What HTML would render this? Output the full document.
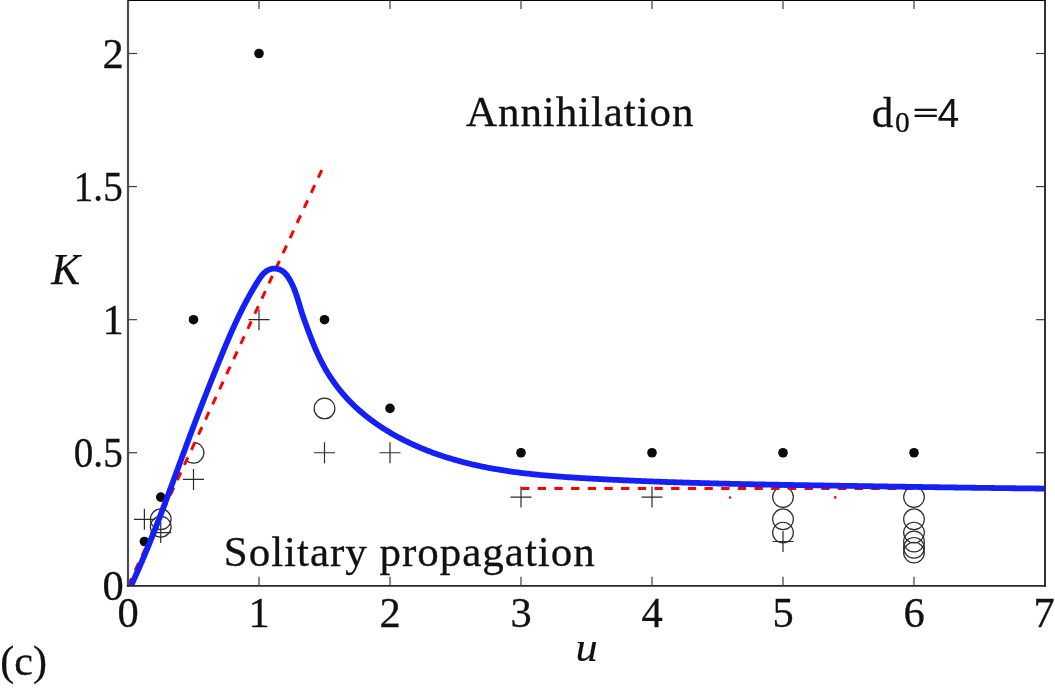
<!DOCTYPE html>
<html><head><meta charset="utf-8"><title>K vs u</title>
<style>html,body{margin:0;padding:0;background:#fff;overflow:hidden;}svg{display:block;}text{font-family:"Liberation Serif",serif;fill:#111111;}.sans{font-family:"Liberation Sans",sans-serif;}</style></head><body>
<svg width="1055" height="688" viewBox="0 0 1055 688">
<rect x="0" y="0" width="1055" height="688" fill="#ffffff"/>
<defs><clipPath id="plot"><rect x="128.00" y="0" width="917.00" height="585.35"/></clipPath>
<clipPath id="rightofred"><polygon points="128.00,585.85 324.50,164.23 400,164.23 400,585.85"/></clipPath></defs>
<g fill="none" stroke="#2b2b2b" stroke-width="1.2">
<circle cx="160.75" cy="519.31" r="10.35"/>
<circle cx="160.75" cy="526.70" r="10.35"/>
<circle cx="324.50" cy="408.40" r="10.35"/>
<circle cx="783.00" cy="497.12" r="10.35"/>
<circle cx="783.00" cy="519.31" r="10.35"/>
<circle cx="783.00" cy="532.62" r="10.35"/>
<circle cx="914.00" cy="497.12" r="10.35"/>
<circle cx="914.00" cy="519.31" r="10.35"/>
<circle cx="914.00" cy="532.62" r="10.35"/>
<circle cx="914.00" cy="541.49" r="10.35"/>
<circle cx="914.00" cy="547.83" r="10.35"/>
<circle cx="914.00" cy="552.58" r="10.35"/>
<circle cx="193.50" cy="452.76" r="10.35" clip-path="url(#rightofred)"/>
<path d="M133.88 519.31H154.88M144.38 508.81V529.81"/>
<path d="M150.25 532.62H171.25M160.75 522.12V543.12"/>
<path d="M183.00 479.38H204.00M193.50 468.88V489.88"/>
<path d="M248.50 319.68H269.50M259.00 309.18V330.18"/>
<path d="M314.00 452.76H335.00M324.50 442.26V463.26"/>
<path d="M379.50 452.76H400.50M390.00 442.26V463.26"/>
<path d="M510.50 497.12H531.50M521.00 486.62V507.62"/>
<path d="M641.50 497.12H662.50M652.00 486.62V507.62"/>
<path d="M772.50 541.49H793.50M783.00 530.99V551.99"/>
</g>
<g fill="#0a0a0a">
<circle cx="144.38" cy="541.49" r="4.8"/>
<circle cx="160.75" cy="497.12" r="4.8"/>
<circle cx="193.50" cy="319.68" r="4.8"/>
<circle cx="259.00" cy="53.50" r="4.8"/>
<circle cx="324.50" cy="319.68" r="4.8"/>
<circle cx="390.00" cy="408.40" r="4.8"/>
<circle cx="521.00" cy="452.76" r="4.8"/>
<circle cx="652.00" cy="452.76" r="4.8"/>
<circle cx="783.00" cy="452.76" r="4.8"/>
<circle cx="914.00" cy="452.76" r="4.8"/>
</g>
<g stroke="#ff0000" stroke-width="3.0" fill="none" stroke-dasharray="8.35 8.33">
<path d="M128.00 585.85L324.50 164.23"/>
<path d="M521.00 488.45L1045.00 488.45"/>
</g>
<circle cx="730" cy="497.5" r="1.3" fill="#ff0000"/><circle cx="835.2" cy="497.4" r="1.3" fill="#ff0000"/>
<path d="M129.02 589.97 L129.68 588.56 L130.35 587.15 L131.01 585.73 L131.67 584.32 L132.33 582.90 L132.98 581.49 L133.63 580.07 L134.28 578.65 L134.93 577.23 L135.57 575.81 L136.21 574.39 L136.84 572.96 L137.48 571.54 L138.11 570.12 L138.73 568.69 L139.36 567.26 L139.98 565.83 L140.60 564.40 L141.22 562.97 L141.83 561.54 L142.45 560.11 L143.06 558.68 L143.67 557.25 L144.27 555.81 L144.87 554.38 L145.47 552.94 L146.07 551.50 L146.67 550.07 L147.26 548.63 L147.86 547.19 L148.45 545.75 L149.03 544.31 L149.62 542.86 L150.21 541.42 L150.79 539.98 L151.37 538.54 L151.95 537.09 L152.52 535.65 L153.10 534.20 L153.67 532.75 L154.24 531.31 L154.81 529.86 L155.38 528.41 L155.95 526.96 L156.51 525.51 L157.08 524.06 L157.64 522.61 L158.20 521.16 L158.76 519.71 L159.32 518.26 L159.88 516.81 L160.43 515.35 L160.99 513.90 L161.54 512.45 L162.09 510.99 L162.64 509.54 L163.19 508.08 L163.74 506.63 L164.29 505.17 L164.84 503.71 L165.38 502.26 L165.93 500.80 L166.47 499.34 L167.02 497.88 L167.56 496.43 L168.10 494.97 L168.64 493.51 L169.19 492.05 L169.73 490.59 L170.27 489.13 L170.81 487.67 L171.34 486.21 L171.88 484.75 L172.42 483.29 L172.96 481.83 L173.50 480.37 L174.03 478.91 L174.57 477.45 L175.11 475.99 L175.65 474.53 L176.18 473.07 L176.72 471.61 L177.25 470.15 L177.79 468.69 L178.33 467.22 L178.86 465.76 L179.40 464.30 L179.94 462.84 L180.47 461.38 L181.01 459.92 L181.55 458.46 L182.09 457.00 L182.63 455.54 L183.16 454.08 L183.70 452.62 L184.24 451.16 L184.78 449.70 L185.32 448.24 L185.87 446.78 L186.41 445.32 L186.95 443.86 L187.49 442.40 L188.04 440.94 L188.58 439.48 L189.13 438.02 L189.67 436.56 L190.22 435.10 L190.77 433.65 L191.32 432.19 L191.87 430.73 L192.42 429.27 L192.97 427.82 L193.52 426.36 L194.07 424.90 L194.63 423.45 L195.18 421.99 L195.74 420.54 L196.29 419.08 L196.85 417.63 L197.41 416.17 L197.96 414.72 L198.52 413.27 L199.08 411.81 L199.64 410.36 L200.21 408.91 L200.77 407.45 L201.33 406.00 L201.90 404.55 L202.46 403.10 L203.03 401.65 L203.59 400.20 L204.16 398.74 L204.73 397.29 L205.29 395.84 L205.86 394.40 L206.43 392.95 L207.00 391.50 L207.58 390.05 L208.15 388.60 L208.72 387.15 L209.29 385.71 L209.87 384.26 L210.44 382.81 L211.02 381.37 L211.60 379.92 L212.18 378.47 L212.75 377.03 L213.33 375.58 L213.91 374.14 L214.49 372.70 L215.07 371.25 L215.66 369.81 L216.24 368.37 L216.82 366.93 L217.41 365.48 L217.99 364.04 L218.58 362.60 L219.17 361.16 L219.75 359.72 L220.34 358.28 L220.93 356.84 L221.52 355.40 L222.11 353.96 L222.70 352.53 L223.30 351.09 L223.89 349.65 L224.49 348.22 L225.09 346.79 L225.69 345.35 L226.29 343.92 L226.90 342.49 L227.51 341.06 L228.12 339.63 L228.73 338.20 L229.35 336.77 L229.97 335.35 L230.59 333.93 L231.21 332.50 L231.84 331.08 L232.47 329.66 L233.11 328.24 L233.75 326.83 L234.39 325.41 L235.04 324.00 L235.69 322.59 L236.35 321.18 L237.01 319.77 L237.67 318.36 L238.34 316.96 L239.01 315.56 L239.69 314.16 L240.38 312.76 L241.07 311.36 L241.76 309.97 L242.46 308.58 L243.17 307.19 L243.88 305.80 L244.60 304.42 L245.32 303.04 L246.05 301.66 L246.79 300.28 L247.53 298.91 L248.28 297.54 L249.04 296.17 L249.80 294.81 L250.57 293.44 L251.35 292.08 L252.13 290.73 L252.93 289.37 L253.73 288.02 L254.53 286.67 L255.35 285.33 L256.17 283.99 L257.00 282.65 L257.84 281.32 L258.69 279.98 L259.55 278.66 L260.43 277.36 L261.35 276.09 L262.31 274.87 L263.33 273.72 L264.42 272.65 L265.60 271.67 L266.86 270.80 L268.22 270.05 L269.65 269.44 L271.13 268.98 L272.65 268.69 L274.19 268.57 L275.74 268.63 L277.28 268.87 L278.78 269.26 L280.22 269.82 L281.60 270.52 L282.89 271.37 L284.09 272.35 L285.22 273.44 L286.26 274.63 L287.24 275.89 L288.16 277.21 L289.03 278.57 L289.85 279.96 L290.62 281.36 L291.36 282.77 L292.06 284.18 L292.72 285.61 L293.36 287.04 L293.96 288.48 L294.54 289.93 L295.09 291.38 L295.62 292.84 L296.13 294.31 L296.62 295.78 L297.10 297.25 L297.57 298.72 L298.03 300.20 L298.48 301.68 L298.93 303.17 L299.38 304.65 L299.82 306.13 L300.27 307.62 L300.73 309.10 L301.19 310.58 L301.66 312.06 L302.14 313.54 L302.63 315.02 L303.13 316.49 L303.64 317.96 L304.15 319.44 L304.67 320.91 L305.19 322.38 L305.72 323.84 L306.25 325.31 L306.79 326.78 L307.33 328.24 L307.88 329.70 L308.42 331.17 L308.97 332.63 L309.52 334.09 L310.08 335.54 L310.64 337.00 L311.21 338.45 L311.78 339.90 L312.35 341.35 L312.93 342.80 L313.52 344.24 L314.11 345.68 L314.71 347.11 L315.32 348.55 L315.94 349.97 L316.56 351.40 L317.19 352.82 L317.83 354.23 L318.49 355.64 L319.15 357.05 L319.82 358.45 L320.50 359.84 L321.20 361.23 L321.91 362.62 L322.63 363.99 L323.36 365.36 L324.10 366.73 L324.86 368.09 L325.63 369.44 L326.42 370.78 L327.22 372.12 L328.03 373.45 L328.85 374.77 L329.69 376.08 L330.54 377.39 L331.40 378.69 L332.28 379.98 L333.17 381.26 L334.07 382.53 L334.98 383.80 L335.90 385.05 L336.84 386.30 L337.79 387.54 L338.75 388.77 L339.72 389.99 L340.70 391.20 L341.70 392.40 L342.70 393.59 L343.72 394.77 L344.75 395.94 L345.78 397.11 L346.83 398.26 L347.90 399.40 L348.97 400.53 L350.05 401.64 L351.14 402.75 L352.24 403.85 L353.35 404.94 L354.48 406.01 L355.61 407.08 L356.75 408.14 L357.90 409.18 L359.06 410.22 L360.23 411.24 L361.41 412.26 L362.59 413.26 L363.79 414.26 L364.99 415.24 L366.20 416.22 L367.42 417.18 L368.65 418.13 L369.89 419.08 L371.13 420.01 L372.38 420.94 L373.64 421.85 L374.91 422.76 L376.18 423.66 L377.46 424.54 L378.74 425.42 L380.04 426.29 L381.34 427.14 L382.64 427.99 L383.96 428.83 L385.27 429.66 L386.60 430.48 L387.93 431.29 L389.26 432.10 L390.60 432.89 L391.95 433.67 L393.30 434.45 L394.66 435.21 L396.02 435.97 L397.38 436.72 L398.75 437.45 L400.13 438.18 L401.51 438.91 L402.89 439.62 L404.28 440.32 L405.67 441.02 L407.07 441.70 L408.47 442.38 L409.87 443.05 L411.28 443.71 L412.69 444.37 L414.11 445.01 L415.53 445.65 L416.95 446.27 L418.38 446.89 L419.81 447.51 L421.24 448.11 L422.68 448.71 L424.12 449.29 L425.56 449.87 L427.01 450.45 L428.46 451.01 L429.92 451.57 L431.37 452.12 L432.83 452.66 L434.30 453.19 L435.76 453.72 L437.23 454.24 L438.70 454.75 L440.18 455.25 L441.66 455.75 L443.14 456.24 L444.62 456.72 L446.10 457.19 L447.59 457.66 L449.08 458.12 L450.57 458.58 L452.06 459.02 L453.56 459.46 L455.06 459.89 L456.56 460.32 L458.06 460.74 L459.56 461.15 L461.07 461.56 L462.57 461.96 L464.08 462.35 L465.59 462.74 L467.11 463.12 L468.62 463.49 L470.13 463.86 L471.65 464.22 L473.17 464.57 L474.69 464.92 L476.21 465.27 L477.73 465.60 L479.25 465.93 L480.77 466.26 L482.30 466.57 L483.82 466.89 L485.35 467.19 L486.87 467.50 L488.40 467.79 L489.93 468.08 L491.46 468.37 L492.99 468.64 L494.52 468.92 L496.05 469.19 L497.58 469.45 L499.11 469.71 L500.65 469.96 L502.18 470.21 L503.72 470.45 L505.25 470.69 L506.79 470.93 L508.33 471.15 L509.87 471.38 L511.40 471.60 L512.94 471.82 L514.48 472.03 L516.02 472.23 L517.57 472.44 L519.11 472.63 L520.65 472.83 L522.19 473.02 L523.74 473.21 L525.28 473.39 L526.83 473.57 L528.37 473.74 L529.92 473.92 L531.46 474.08 L533.01 474.25 L534.56 474.41 L536.10 474.57 L537.65 474.72 L539.20 474.87 L540.75 475.02 L542.30 475.17 L543.85 475.31 L545.40 475.45 L546.95 475.59 L548.50 475.72 L550.05 475.85 L551.60 475.98 L553.16 476.11 L554.71 476.23 L556.26 476.35 L557.81 476.47 L559.37 476.59 L560.92 476.70 L562.47 476.81 L564.03 476.92 L565.58 477.03 L567.13 477.14 L568.69 477.24 L570.24 477.35 L571.80 477.45 L573.35 477.55 L574.91 477.65 L576.46 477.74 L578.02 477.84 L579.57 477.93 L581.13 478.03 L582.68 478.12 L584.24 478.21 L585.79 478.30 L587.35 478.39 L588.90 478.48 L590.46 478.56 L592.01 478.65 L593.57 478.74 L595.13 478.82 L596.68 478.91 L598.24 478.99 L599.79 479.07 L601.35 479.15 L602.90 479.24 L604.46 479.32 L606.01 479.40 L607.57 479.48 L609.12 479.55 L610.68 479.63 L612.24 479.71 L613.79 479.78 L615.35 479.86 L616.90 479.93 L618.46 480.01 L620.01 480.08 L621.57 480.15 L623.12 480.23 L624.68 480.30 L626.23 480.37 L627.79 480.44 L629.35 480.51 L630.90 480.57 L632.46 480.64 L634.01 480.71 L635.57 480.78 L637.12 480.84 L638.68 480.91 L640.23 480.97 L641.79 481.04 L643.35 481.10 L644.90 481.16 L646.46 481.22 L648.01 481.29 L649.57 481.35 L651.12 481.41 L652.68 481.47 L654.24 481.53 L655.79 481.58 L657.35 481.64 L658.90 481.70 L660.46 481.76 L662.01 481.81 L663.57 481.87 L665.12 481.92 L666.68 481.98 L668.24 482.03 L669.79 482.08 L671.35 482.14 L672.90 482.19 L674.46 482.24 L676.01 482.29 L677.57 482.34 L679.13 482.39 L680.68 482.44 L682.24 482.49 L683.79 482.54 L685.35 482.59 L686.90 482.64 L688.46 482.68 L690.02 482.73 L691.57 482.78 L693.13 482.82 L694.68 482.87 L696.24 482.91 L697.80 482.96 L699.35 483.00 L700.91 483.05 L702.46 483.09 L704.02 483.13 L705.57 483.17 L707.13 483.22 L708.69 483.26 L710.24 483.30 L711.80 483.34 L713.35 483.38 L714.91 483.42 L716.47 483.46 L718.02 483.50 L719.58 483.54 L721.13 483.57 L722.69 483.61 L724.24 483.65 L725.80 483.69 L727.36 483.72 L728.91 483.76 L730.47 483.80 L732.02 483.83 L733.58 483.87 L735.14 483.90 L736.69 483.94 L738.25 483.97 L739.80 484.01 L741.36 484.04 L742.92 484.07 L744.47 484.11 L746.03 484.14 L747.58 484.17 L749.14 484.20 L750.70 484.24 L752.25 484.27 L753.81 484.30 L755.36 484.33 L756.92 484.36 L758.48 484.39 L760.03 484.42 L761.59 484.45 L763.14 484.48 L764.70 484.51 L766.26 484.54 L767.81 484.57 L769.37 484.60 L770.93 484.63 L772.48 484.66 L774.04 484.69 L775.59 484.71 L777.15 484.74 L778.71 484.77 L780.26 484.80 L781.82 484.82 L783.37 484.85 L784.93 484.88 L786.49 484.91 L788.04 484.93 L789.60 484.96 L791.16 484.99 L792.71 485.01 L794.27 485.04 L795.82 485.06 L797.38 485.09 L798.94 485.12 L800.49 485.14 L802.05 485.17 L803.61 485.19 L805.16 485.22 L806.72 485.24 L808.28 485.27 L809.83 485.29 L811.39 485.32 L812.94 485.34 L814.50 485.37 L816.06 485.39 L817.61 485.42 L819.17 485.44 L820.73 485.47 L822.28 485.49 L823.84 485.51 L825.40 485.54 L826.95 485.56 L828.51 485.59 L830.06 485.61 L831.62 485.64 L833.18 485.66 L834.73 485.68 L836.29 485.71 L837.85 485.73 L839.40 485.76 L840.96 485.78 L842.52 485.80 L844.07 485.83 L845.63 485.85 L847.19 485.88 L848.74 485.90 L850.30 485.93 L851.86 485.95 L853.41 485.97 L854.97 486.00 L856.53 486.02 L858.08 486.05 L859.64 486.07 L861.20 486.10 L862.75 486.12 L864.31 486.14 L865.87 486.17 L867.42 486.19 L868.98 486.22 L870.54 486.24 L872.09 486.26 L873.65 486.29 L875.21 486.31 L876.76 486.34 L878.32 486.36 L879.88 486.39 L881.43 486.41 L882.99 486.43 L884.55 486.46 L886.10 486.48 L887.66 486.51 L889.22 486.53 L890.77 486.55 L892.33 486.58 L893.89 486.60 L895.44 486.62 L897.00 486.65 L898.56 486.67 L900.11 486.70 L901.67 486.72 L903.23 486.74 L904.78 486.77 L906.34 486.79 L907.90 486.81 L909.45 486.84 L911.01 486.86 L912.57 486.88 L914.12 486.91 L915.68 486.93 L917.24 486.95 L918.79 486.98 L920.35 487.00 L921.91 487.02 L923.46 487.05 L925.02 487.07 L926.58 487.09 L928.13 487.11 L929.69 487.14 L931.25 487.16 L932.80 487.18 L934.36 487.21 L935.92 487.23 L937.47 487.25 L939.03 487.27 L940.59 487.30 L942.15 487.32 L943.70 487.34 L945.26 487.36 L946.82 487.38 L948.37 487.41 L949.93 487.43 L951.49 487.45 L953.04 487.47 L954.60 487.49 L956.16 487.52 L957.71 487.54 L959.27 487.56 L960.83 487.58 L962.38 487.60 L963.94 487.62 L965.50 487.64 L967.05 487.67 L968.61 487.69 L970.17 487.71 L971.72 487.73 L973.28 487.75 L974.84 487.77 L976.39 487.79 L977.95 487.81 L979.51 487.83 L981.06 487.85 L982.62 487.87 L984.18 487.89 L985.73 487.91 L987.29 487.93 L988.85 487.95 L990.40 487.97 L991.96 487.99 L993.52 488.01 L995.07 488.03 L996.63 488.05 L998.19 488.07 L999.74 488.09 L1001.30 488.11 L1002.85 488.12 L1004.41 488.14 L1005.97 488.16 L1007.52 488.18 L1009.08 488.20 L1010.64 488.22 L1012.19 488.23 L1013.75 488.25 L1015.31 488.27 L1016.86 488.29 L1018.42 488.31 L1019.98 488.32 L1021.53 488.34 L1023.09 488.36 L1024.65 488.37 L1026.20 488.39 L1027.76 488.41 L1029.31 488.43 L1030.87 488.44 L1032.43 488.46 L1033.98 488.47 L1035.54 488.49 L1037.10 488.51 L1038.65 488.52 L1040.21 488.54 L1041.77 488.55 L1043.32 488.57 L1044.88 488.59 L1046.43 488.60 L1047.99 488.62 L1049.55 488.63 L1051.10 488.64 L1052.66 488.66 L1054.21 488.67 L1055.77 488.69 L1057.33 488.70 L1058.88 488.72 L1060.44 488.73 L1062.00 488.74" fill="none" stroke="#1420f6" stroke-width="5.8" stroke-linejoin="round" clip-path="url(#plot)"/>
<line x1="128.00" y1="0" x2="128.00" y2="586.75" stroke="#4b4f50" stroke-width="2.2"/>
<line x1="1045.00" y1="0" x2="1045.00" y2="586.75" stroke="#25282a" stroke-width="1.9"/>
<line x1="126.90" y1="585.85" x2="1045.95" y2="585.85" stroke="#25282a" stroke-width="1.9"/>
<line x1="128.00" y1="0" x2="1045.95" y2="0" stroke="#000" stroke-width="1.8"/>
<g stroke="#3a3d3f" stroke-width="1.2">
<line x1="259.00" y1="585.85" x2="259.00" y2="576.85"/>
<line x1="259.00" y1="0" x2="259.00" y2="9"/>
<line x1="390.00" y1="585.85" x2="390.00" y2="576.85"/>
<line x1="390.00" y1="0" x2="390.00" y2="9"/>
<line x1="521.00" y1="585.85" x2="521.00" y2="576.85"/>
<line x1="521.00" y1="0" x2="521.00" y2="9"/>
<line x1="652.00" y1="585.85" x2="652.00" y2="576.85"/>
<line x1="652.00" y1="0" x2="652.00" y2="9"/>
<line x1="783.00" y1="585.85" x2="783.00" y2="576.85"/>
<line x1="783.00" y1="0" x2="783.00" y2="9"/>
<line x1="914.00" y1="585.85" x2="914.00" y2="576.85"/>
<line x1="914.00" y1="0" x2="914.00" y2="9"/>
<line x1="128.00" y1="452.76" x2="137.00" y2="452.76"/>
<line x1="1045.00" y1="452.76" x2="1036.00" y2="452.76"/>
<line x1="128.00" y1="319.68" x2="137.00" y2="319.68"/>
<line x1="1045.00" y1="319.68" x2="1036.00" y2="319.68"/>
<line x1="128.00" y1="186.59" x2="137.00" y2="186.59"/>
<line x1="1045.00" y1="186.59" x2="1036.00" y2="186.59"/>
<line x1="128.00" y1="53.50" x2="137.00" y2="53.50"/>
<line x1="1045.00" y1="53.50" x2="1036.00" y2="53.50"/>
</g>
<g font-size="43" style="filter:grayscale(1)" stroke="#111111" stroke-width="0.3">
<text x="128.00" y="627.3" text-anchor="middle" font-size="42.5">0</text>
<text x="259.00" y="627.3" text-anchor="middle" font-size="42.5">1</text>
<text x="390.00" y="627.3" text-anchor="middle" font-size="42.5">2</text>
<text x="521.00" y="627.3" text-anchor="middle" font-size="42.5">3</text>
<text x="652.00" y="627.3" text-anchor="middle" font-size="42.5">4</text>
<text x="783.00" y="627.3" text-anchor="middle" font-size="42.5">5</text>
<text x="914.00" y="627.3" text-anchor="middle" font-size="42.5">6</text>
<text x="1044.10" y="627.3" text-anchor="middle" font-size="42.5">7</text>
<text x="123.8" y="600.35" text-anchor="end" font-size="42.5">0</text>
<text transform="translate(122.7,467.26) scale(0.92,1)" x="0" y="0" text-anchor="end" font-size="42.5">0.5</text>
<text x="123.8" y="334.18" text-anchor="end" font-size="42.5">1</text>
<text transform="translate(122.7,201.09) scale(0.92,1)" x="0" y="0" text-anchor="end" font-size="42.5">1.5</text>
<text x="123.8" y="68.00" text-anchor="end" font-size="42.5">2</text>
<text x="51.2" y="284.4" font-style="italic" font-size="43.3" stroke-width="0.25">K</text>
<text transform="translate(575.6,661) scale(1.06,1)" x="0" y="0" font-style="italic" font-size="42" stroke-width="0.1">u</text>
<text x="0.3" y="675.3" font-size="42">(c)</text>
<text x="466" y="126.3" letter-spacing="0.92">Annihilation</text>
<text x="223.8" y="565.5" letter-spacing="0.98">Solitary propagation</text>
<text x="871.8" y="126.5">d</text>
<text x="895" y="132.3" font-size="29.5">0</text>
<rect x="914.6" y="108.7" width="22.2" height="2.3" fill="#111111" stroke="none"/><rect x="914.6" y="114.7" width="22.2" height="2.3" fill="#111111" stroke="none"/>
<text class="sans" transform="translate(937.4,126.6) scale(0.98,1.035)" x="0" y="0" font-size="40" stroke="none">4</text>
</g>
</svg></body></html>
